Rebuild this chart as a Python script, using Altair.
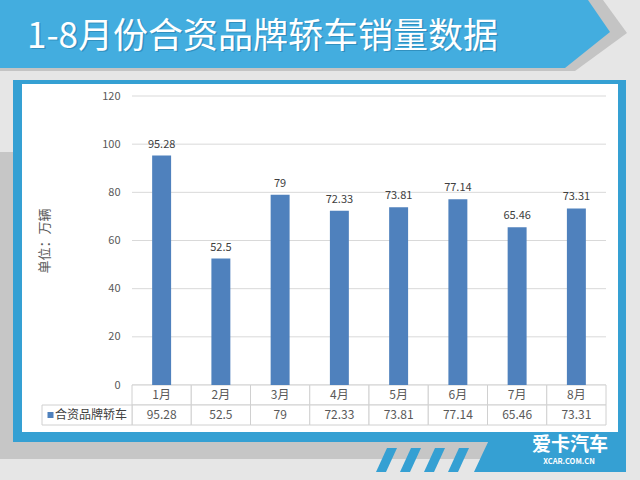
import altair as alt
import pandas as pd

# ---- data ----
months = ["1月", "2月", "3月", "4月", "5月", "6月", "7月", "8月"]
sales = [95.28, 52.5, 79, 72.33, 73.81, 77.14, 65.46, 73.31]
sales_labels = ["95.28", "52.5", "79", "72.33", "73.81", "77.14", "65.46", "73.31"]
y_ticks = [0, 20, 40, 60, 80, 100, 120]
series_name = "合资品牌轿车"
title_text = "1-8月份合资品牌轿车销量数据"
y_title = "单位：万辆"
logo_main = "爱卡汽车"
logo_sub = "XCAR.COM.CN"

# ---- layout ----
W, H = 474, 289
OX, OY = 132, 96
FONT = "Noto Sans CJK SC"
BAR = "#4f81bd"
BLUE_BANNER = "#43addf"
BLUE_FRAME = "#35a0d3"
GRAY_BAND = "#c6c6c6"
BG = "#e6e6e6"

df = pd.DataFrame({"month": months, "value": sales, "label": sales_labels})
grid_df = pd.DataFrame({"value": y_ticks})
one = pd.DataFrame({"k": [0]})

xenc = alt.X("month:N", sort=months,
             scale=alt.Scale(paddingInner=0, paddingOuter=0), axis=None)
yenc = alt.Y("value:Q", scale=alt.Scale(domain=[0, 120], nice=False),
             axis=alt.Axis(values=y_ticks, title=None, grid=False, ticks=False,
                           domain=False, labelPadding=12, labelFontSize=11,
                           labelColor="#595959", labelFont=FONT, zindex=1))


def poly(points, color):
    path = "M" + " L".join(f"{x},{y}" for x, y in points) + " Z"
    return alt.Chart(one).mark_point(
        shape=path, size=4, filled=True, fill=color, color=color,
        strokeWidth=0, opacity=1
    ).encode(x=alt.value(-OX), y=alt.value(-OY))


def rect(x0, y0, x1, y1, color):
    return poly([(x0, y0), (x1, y0), (x1, y1), (x0, y1)], color)


def text(s, x, y, size, color, align="left", baseline="middle", weight="normal",
         angle=0, opacity=1.0):
    kw = dict(text=s, font=FONT, fontSize=size, color=color, align=align,
              baseline=baseline, fontWeight=weight, opacity=opacity)
    if angle:
        kw["angle"] = angle
    return alt.Chart(one).mark_text(**kw).encode(
        x=alt.value(x - OX), y=alt.value(y - OY))


layers = []
# background decorations
layers.append(poly([(0, 152), (13, 152), (13, 442), (488, 442), (481, 459), (0, 459)], GRAY_BAND))
layers.append(poly([(0, 0), (603, 0), (627, 33), (575, 71), (0, 71)], "#c4c4c4"))
layers.append(poly([(0, 0), (588, 0), (610, 32), (565, 68), (0, 68)], BLUE_BANNER))
layers.append(rect(13, 80, 626, 442, BLUE_FRAME))
layers.append(poly([(488, 442), (626, 442), (626, 472), (474, 472)], BLUE_FRAME))
for tx in [387, 411, 435, 459]:
    layers.append(poly([(tx, 448), (tx + 10, 448), (tx - 1, 472), (tx - 11, 472)], BLUE_FRAME))
layers.append(rect(22, 84, 618, 432, "white"))

# title
layers.append(text(title_text, 28.5, 38, 35, "#1d6f99", opacity=0.45))
layers.append(text(title_text, 27, 36.5, 35, "white"))

# logo
layers.append(text(logo_main, 570, 445, 19, "white", align="center", weight="bold"))
layers.append(text(logo_sub, 569, 462, 7.5, "white", align="center", weight="bold"))

# gridlines
layers.append(alt.Chart(grid_df).mark_rule(color="#d9d9d9", strokeWidth=1).encode(
    y=yenc, x=alt.value(0), x2=alt.value(W)))

# data table cells
layers.append(alt.Chart(df).mark_rect(fill="white", stroke="#d0d0d0", strokeWidth=1).encode(
    x=xenc, y=alt.value(H), y2=alt.value(H + 20)))
layers.append(alt.Chart(df).mark_rect(fill="white", stroke="#d0d0d0", strokeWidth=1).encode(
    x=xenc, y=alt.value(H + 20), y2=alt.value(H + 40)))
layers.append(alt.Chart(one).mark_rect(fill="white", stroke="#d0d0d0", strokeWidth=1).encode(
    x=alt.value(-90), x2=alt.value(0), y=alt.value(H + 20), y2=alt.value(H + 40)))

# bars
layers.append(alt.Chart(df).mark_bar(color=BAR, width=alt.RelativeBandSize(0.32)).encode(
    x=xenc, y=yenc))
# bar labels
layers.append(alt.Chart(df).mark_text(font=FONT, fontSize=11, color="#404040",
                                      baseline="bottom", dy=-6).encode(
    x=xenc, y=yenc, text="label:N"))

# table texts
layers.append(alt.Chart(df).mark_text(font=FONT, fontSize=12, color="#595959").encode(
    x=xenc, y=alt.value(H + 10), text="month:N"))
layers.append(alt.Chart(df).mark_text(font=FONT, fontSize=12, color="#595959").encode(
    x=xenc, y=alt.value(H + 30), text="label:N"))

# legend
layers.append(rect(47.5, 412, 53.5, 418, BAR))
layers.append(text(series_name, 55, 415, 12, "#404040"))

# y title
layers.append(text(y_title, 45, 241, 13, "#595959", align="center", angle=270))

chart = alt.layer(*layers).properties(
    width=W, height=H,
    autosize=alt.AutoSizeParams(type="none"),
    padding={"left": OX, "top": OY, "right": 640 - OX - W, "bottom": 480 - OY - H},
    background=BG,
).configure_view(stroke=None)

chart.save("out.html", embed_options={"renderer": "svg", "actions": False})
